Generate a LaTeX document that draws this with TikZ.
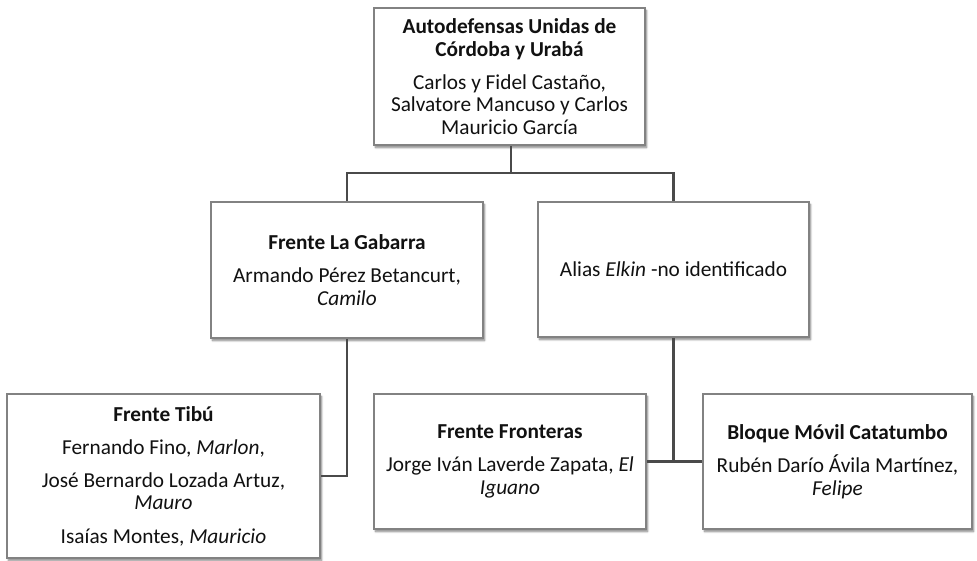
\documentclass[tikz,border=0pt]{standalone}
\usepackage{fontspec}
\setmainfont{Carlito}
\usetikzlibrary{shadows.blur}
\definecolor{boxline}{HTML}{828282}
\definecolor{connline}{HTML}{4A4A4A}
\definecolor{txt}{HTML}{111111}
\tikzset{
  x=1pt, y=-1pt,
  orgbox/.style={draw=boxline, line width=1.7pt, fill=white, inner sep=0pt,
    align=center, text=txt, font=\fontsize{21.3}{22.6}\selectfont,
    blur shadow={shadow xshift=1.5pt, shadow yshift=-2.5pt, shadow blur radius=2pt,
      shadow blur steps=6, shadow opacity=50}},
  conn/.style={draw=connline, line width=2.4pt}
}
\newcommand{\pbreak}{\\[10.5pt]}
\begin{document}
\begin{tikzpicture}
\useasboundingbox (0,0) rectangle (977,561);
\node[orgbox, minimum width=271pt, minimum height=137pt] (top) at (509.5,76.5)
  {\textbf{Autodefensas Unidas de}\\\textbf{Córdoba y Urabá}\pbreak
   Carlos y Fidel Castaño,\\Salvatore Mancuso y Carlos\\Mauricio García};
\node[orgbox, minimum width=272pt, minimum height=136pt] (gab) at (347,270)
  {\textbf{Frente La Gabarra}\pbreak Armando Pérez Betancurt,\\\textit{Camilo}};
\node[orgbox, minimum width=271pt, minimum height=135pt] (elk) at (673.5,269.5)
  {Alias \textit{Elkin} -no identificado};
\node[orgbox, minimum width=313pt, minimum height=164pt] (tib) at (163.5,476)
  {\textbf{Frente Tibú}\pbreak Fernando Fino, \textit{Marlon},\pbreak
   José Bernardo Lozada Artuz,\\\textit{Mauro}\pbreak Isaías Montes, \textit{Mauricio}};
\node[orgbox, minimum width=272pt, minimum height=135pt] (fro) at (510,461.5)
  {\textbf{Frente Fronteras}\pbreak Jorge Iván Laverde Zapata, \textit{El}\\\textit{Iguano}};
\node[orgbox, minimum width=269pt, minimum height=135pt] (blo) at (837.5,461.5)
  {\textbf{Bloque Móvil Catatumbo}\pbreak Rubén Darío Ávila Martínez,\\\textit{Felipe}};
\coordinate (j1) at (511,173);
\draw[conn] (top.south -| j1) -- (j1);
\draw[conn] (gab.north) -- (gab.north |- j1) -- (elk.north |- j1) -- (elk.north);
\draw[conn] (gab.south) |- (tib.east);
\draw[conn] (elk.south) -- (elk.south |- fro.east);
\draw[conn] (fro.east) -- (blo.west);
\end{tikzpicture}
\end{document}
